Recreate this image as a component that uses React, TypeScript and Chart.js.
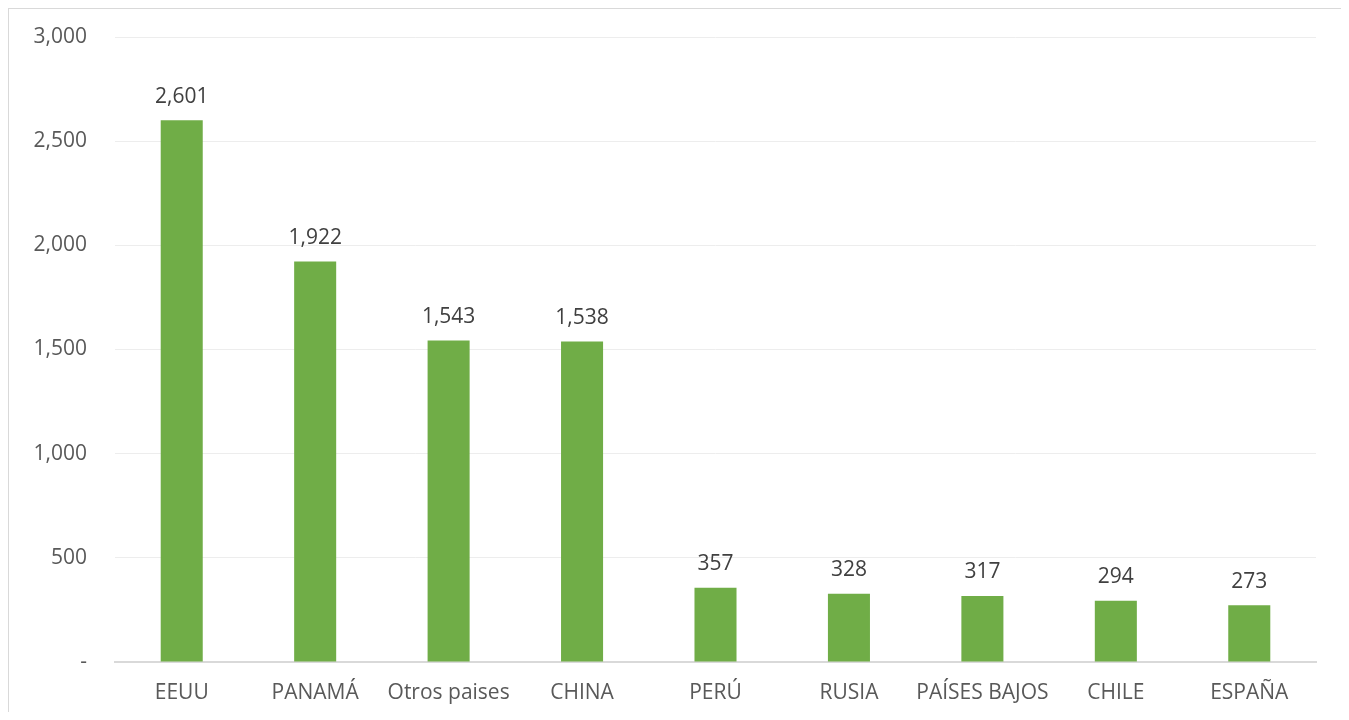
import React, { useEffect, useRef } from "react";
import { Chart, registerables } from "chart.js";

Chart.register(...registerables);

const categories = ["EEUU", "PANAMÁ", "Otros paises", "CHINA", "PERÚ", "RUSIA", "PAÍSES BAJOS", "CHILE", "ESPAÑA"];
const values = [2601, 1922, 1543, 1538, 357, 328, 317, 294, 273];
const yTicks = [0, 500, 1000, 1500, 2000, 2500, 3000];

const FONT = "'Open Sans', 'Liberation Sans', sans-serif";

const fmt = (v: number) => (v === 0 ? "-" : v.toLocaleString("en-US"));

const dataLabels = {
  id: "dataLabels",
  afterDatasetsDraw(chart: any) {
    const ctx = chart.ctx;
    const meta = chart.getDatasetMeta(0);
    ctx.save();
    ctx.font = `21px ${FONT}`;
    ctx.fillStyle = "#404040";
    ctx.textAlign = "center";
    ctx.textBaseline = "bottom";
    meta.data.forEach((bar: any, i: number) => {
      ctx.fillText(fmt(values[i]), bar.x, bar.y - 13);
    });
    ctx.restore();
  },
};

export default function App() {
  const ref = useRef<HTMLCanvasElement>(null);
  useEffect(() => {
    if (!ref.current) return;
    const chart = new Chart(ref.current, {
      type: "bar",
      data: {
        labels: categories,
        datasets: [
          {
            data: values,
            backgroundColor: "#70AD47",
            barPercentage: 0.315,
            categoryPercentage: 1,
          },
        ],
      },
      options: {
        animation: false,
        responsive: false,
        maintainAspectRatio: false,
        layout: { padding: { top: 28, right: 28, left: 0, bottom: 0 } },
        plugins: { legend: { display: false }, tooltip: { enabled: false } },
        scales: {
          x: {
            grid: { display: false, drawTicks: false },
            border: { color: "#d9d9d9", width: 2 },
            ticks: { color: "#595959", font: { family: FONT, size: 21 }, padding: 18, maxRotation: 0, autoSkip: false },
            afterFit: (s: any) => {
              s.height = 50;
            },
          },
          y: {
            min: 0,
            max: 3000,
            afterBuildTicks: (s: any) => {
              s.ticks = yTicks.map((v) => ({ value: v }));
            },
            grid: { color: "#ededed", drawTicks: true, tickLength: 28, tickColor: "rgba(0,0,0,0)" },
            border: { display: false },
            ticks: {
              color: "#595959",
              font: { family: FONT, size: 21 },
              padding: 0,
              callback: (v: any) => fmt(Number(v)),
            },
            afterFit: (s: any) => {
              s.width = 106;
            },
          },
        },
      },
      plugins: [dataLabels],
    });
    return () => chart.destroy();
  }, []);
  return (
    <div
      style={{
        width: 1335,
        height: 703,
        borderTop: "1px solid #d9d9d9",
        borderLeft: "1px solid #d9d9d9",
        borderRight: "1px solid #d9d9d9",
        background: "#fff",
      }}
    >
      <canvas ref={ref} width={1335} height={703} style={{ display: "block" }} />
    </div>
  );
}
